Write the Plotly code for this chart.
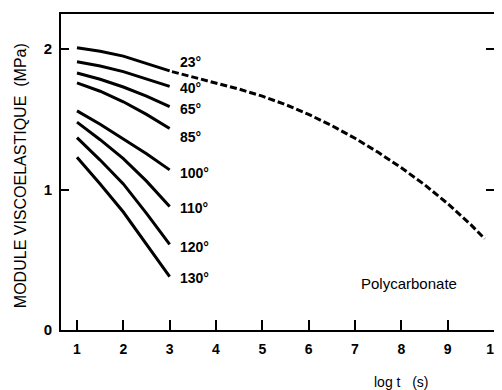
import plotly.graph_objects as go

# Solid isotherm curves (log t from 1 to 3)
temps = ["23°", "40°", "65°", "85°", "100°", "110°", "120°", "130°"]
x_solid = [1.0, 1.5, 2.0, 2.5, 3.0]
y_23 = [2.01, 1.985, 1.95, 1.90, 1.845]
y_40 = [1.91, 1.88, 1.84, 1.79, 1.735]
y_65 = [1.83, 1.785, 1.73, 1.665, 1.59]
y_85 = [1.76, 1.70, 1.625, 1.535, 1.435]
y_100 = [1.56, 1.465, 1.36, 1.255, 1.14]
y_110 = [1.48, 1.355, 1.22, 1.06, 0.88]
y_120 = [1.37, 1.21, 1.04, 0.83, 0.61]
y_130 = [1.23, 1.04, 0.84, 0.61, 0.38]
curves = [y_23, y_40, y_65, y_85, y_100, y_110, y_120, y_130]

# Master curve (dashed) continuing from 23°
x_master = [3.05, 3.5, 4.0, 4.5, 5.0, 5.5, 6.0, 6.5, 7.0, 7.5, 8.0, 8.5, 9.0, 9.5, 9.8]
y_master = [1.84, 1.80, 1.76, 1.715, 1.665, 1.605, 1.535, 1.455, 1.365, 1.265, 1.155, 1.035, 0.90, 0.75, 0.65]

# Label positions
label_y = [1.91, 1.72, 1.574, 1.376, 1.121, 0.871, 0.59, 0.371]
label_x = 3.18

x_ticks = [1, 2, 3, 4, 5, 6, 7, 8, 9, 10]
y_ticks = [0, 1, 2]

font_family = "Liberation Sans, Arial, sans-serif"

fig = go.Figure()
for yv in curves:
    fig.add_trace(go.Scatter(x=x_solid, y=yv, mode="lines",
                             line=dict(color="black", width=3),
                             showlegend=False, hoverinfo="skip"))
fig.add_trace(go.Scatter(x=x_master, y=y_master, mode="lines",
                         line=dict(color="black", width=3, dash="7px,3px"),
                         showlegend=False, hoverinfo="skip"))

for t, ly in zip(temps, label_y):
    fig.add_annotation(x=label_x, y=ly, text="<b>" + t + "</b>", showarrow=False, xanchor="left",
                       yanchor="middle", font=dict(family=font_family, size=14, color="black"))

fig.add_annotation(x=8.16, y=0.33, text="Polycarbonate", showarrow=False,
                   font=dict(family=font_family, size=15, color="black"))
fig.add_annotation(x=8.0, y=-0.165, xref="x", yref="paper", yanchor="middle", xanchor="center",
                   text="log t &nbsp;&nbsp;(s)", showarrow=False,
                   font=dict(family=font_family, size=14, color="black"))
fig.add_annotation(x=-0.0947, y=0.49, xref="paper", yref="paper", textangle=-90,
                   xanchor="center", yanchor="middle",
                   text="MODULE VISCOELASTIQUE &nbsp;(MPa)", showarrow=False,
                   font=dict(family=font_family, size=16, color="black"))

# The page body adds an 8px offset, so the figure is 8px smaller and margins compensate.
fig.update_layout(
    width=494, height=382,
    margin=dict(l=53, r=8, t=6, b=60, autoexpand=False),
    plot_bgcolor="white", paper_bgcolor="white",
    font=dict(family=font_family, size=14, color="black"),
)

fig.update_xaxes(range=[0.655, 10], tickvals=x_ticks, ticks="inside", ticklen=10, tickwidth=2,
                 tickcolor="black", showline=True, linewidth=2, linecolor="black", mirror=True,
                 showgrid=False, zeroline=False, automargin=False, ticklabelstandoff=5,
                 ticklabeloverflow="allow",
                 tickfont=dict(size=14, weight="bold"))
fig.update_yaxes(range=[0, 2.25], tickvals=y_ticks, ticks="inside", ticklen=8, tickwidth=2,
                 tickcolor="black", showline=True, linewidth=2, linecolor="black", mirror="ticks",
                 showgrid=False, zeroline=False, automargin=False, ticklabelstandoff=4,
                 tickfont=dict(size=15, weight="bold"))

fig.write_html("out.html")
